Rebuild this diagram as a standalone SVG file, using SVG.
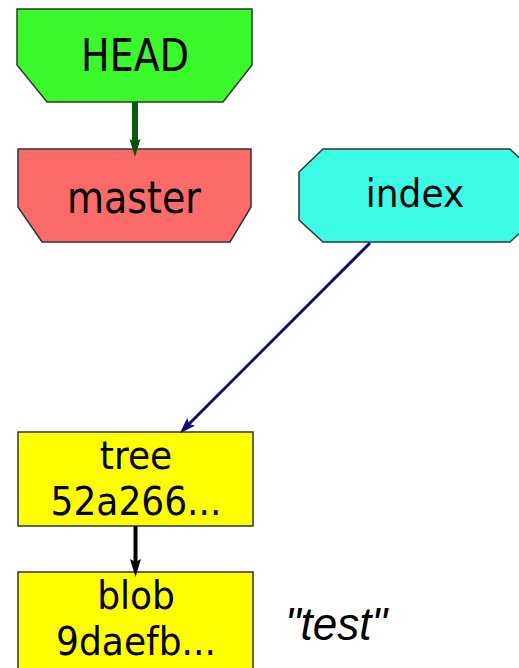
<svg xmlns="http://www.w3.org/2000/svg" width="519" height="668" viewBox="0 0 519 668">
  <style>
    .node { stroke: #333; stroke-width: 1.5; }
    .lbl { font-family: "DejaVu Sans", sans-serif; fill: #000; text-anchor: middle; }
    .edge { fill: none; }
  </style>
  <defs>
    <marker id="ahGreen" markerWidth="18" markerHeight="12" refX="8" refY="6" orient="auto" markerUnits="userSpaceOnUse" viewBox="0 0 18 12">
      <path d="M0,0.5 L18,6 L0,11.5 L3,6 z" fill="#0a4f0a"/>
    </marker>
    <marker id="ahNavy" markerWidth="16" markerHeight="12" refX="8" refY="6" orient="auto" markerUnits="userSpaceOnUse" viewBox="0 0 16 12">
      <path d="M0,0.5 L16,6 L0,11.5 L3,6 z" fill="#0b0b7a"/>
    </marker>
    <marker id="ahBlack" markerWidth="18" markerHeight="12" refX="8" refY="6" orient="auto" markerUnits="userSpaceOnUse" viewBox="0 0 18 12">
      <path d="M0,0.5 L18,6 L0,11.5 L3,6 z" fill="#000"/>
    </marker>
  </defs>

  <rect width="519" height="668" fill="#fff"/>

  <g id="HEAD">
    <polygon class="node" fill="#3af92a" points="17,9 252,9 252,65 223,102 47,102 17,65"/>
    <text class="lbl" font-size="38" transform="translate(135,71) scale(1,1.17)">HEAD</text>
  </g>

  <g id="master">
    <polygon class="node" fill="#fd6a6a" points="18,149 251,149 251,207 230,242 42,242 18,207"/>
    <text class="lbl" font-size="38" transform="translate(134,213) scale(1,1.17)">master</text>
  </g>

  <g id="index">
    <polygon class="node" fill="#3bfbe6" points="323,149 510,149 534,172 534,220 510,242 323,242 299,220 299,172"/>
    <text class="lbl" font-size="36" transform="translate(415,207) scale(1,1.1)">index</text>
  </g>

  <g id="tree">
    <rect class="node" fill="#ffff00" x="18" y="432" width="235" height="94"/>
    <text class="lbl" font-size="36" transform="translate(136,469) scale(1,1.1)">tree</text>
    <text class="lbl" font-size="36" transform="translate(136,515) scale(1,1.1)">52a266...</text>
  </g>

  <g id="blob">
    <rect class="node" fill="#ffff00" x="18" y="572" width="235" height="110"/>
    <text class="lbl" font-size="36" transform="translate(136,609) scale(1,1.1)">blob</text>
    <text class="lbl" font-size="36" transform="translate(136,655) scale(1,1.1)">9daefb...</text>
  </g>

  <text font-family="Liberation Sans, Arial, sans-serif" font-style="italic" font-size="44" text-anchor="middle" fill="#000" transform="translate(336,640) scale(1,1.05)">"test"</text>

  <!-- edges drawn last so the arrow tips sit over the node outlines;
       each line stops inside its head so the tip stays sharp -->
  <g id="connectors">
    <line class="edge" x1="135" y1="102" x2="135" y2="147" stroke="#0a5a0a" stroke-width="6" marker-end="url(#ahGreen)"/>
    <line class="edge" x1="370" y1="243" x2="185.5" y2="427.5" stroke="#0b0b7a" stroke-width="3" marker-end="url(#ahNavy)"/>
    <line class="edge" x1="135.5" y1="526" x2="135.5" y2="567" stroke="#000" stroke-width="4" marker-end="url(#ahBlack)"/>
  </g>
</svg>
